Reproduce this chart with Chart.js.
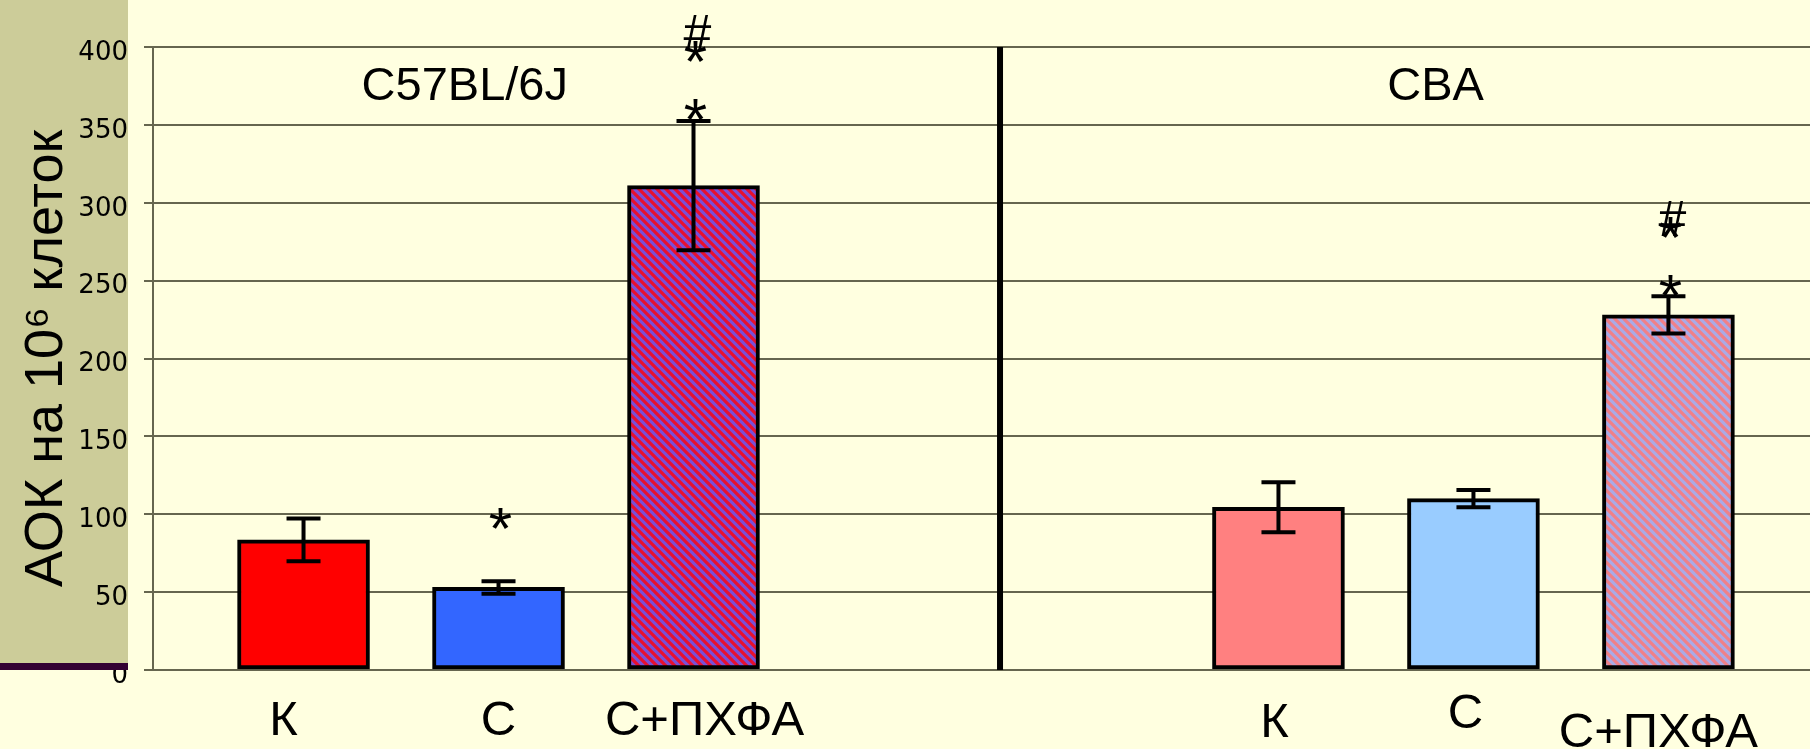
<!DOCTYPE html>
<html>
<head>
<meta charset="utf-8">
<script src="https://cdn.jsdelivr.net/npm/chart.js@4"></script>
<style>
  html, body { margin: 0; padding: 0; background: #ffffe0; }
  #wrap { width: 1810px; height: 749px; }
</style>
</head>
<body>
<div id="wrap"><canvas id="aok"></canvas></div>
<script>
// strains and treatment groups
const strains = ['C57BL/6J', 'CBA'];
const categories = ['К', 'С', 'С+ПХФА'];

// AOK per 10^6 cells, mean and error
const c57Values = [83.5, 53, 311];
const c57Errors = [13.7, 4, 41.5];
const cbaValues = [104.5, 110, 228];
const cbaErrors = [16, 5.5, 12];

const yTicks = [0, 50, 100, 150, 200, 250, 300, 350, 400];

// significance marks: category index, symbol, level on the y scale
const c57Marks = [
  { cat: 1, text: '*', level: 97.4 },
  { cat: 2, text: '*', level: 359.6 },
  { cat: 2, text: '#', level: 409.6 },
  { cat: 2, text: '*', level: 397.4 },
];
const cbaMarks = [
  { cat: 2, text: '*', level: 247 },
  { cat: 2, text: '#', level: 289.6 },
  { cat: 2, text: '*', level: 284 },
];

const groupStride = 5;   // two empty slots between the strains
const slot = (g, c) => g * groupStride + c;

// small hand nudges for the category captions (px), strain by strain
const captionShift = [
  [[-20, 0], [0, 0], [11, 0]],
  [[-4, 2], [-8, -7], [-10, 12]]
];

const FONT = '"Liberation Sans", Arial, sans-serif';

function stripes(c1, c2) {
  const p = 9;
  const tile = document.createElement('canvas');
  tile.width = p;
  tile.height = p;
  const t = tile.getContext('2d');
  t.fillStyle = c1;
  t.fillRect(0, 0, p, p);
  t.strokeStyle = c2;
  t.lineWidth = p / (2 * Math.SQRT2);
  t.beginPath();
  for (const o of [-p, 0, p]) {
    t.moveTo(o - p, -p);
    t.lineTo(o + 2 * p, 2 * p);
  }
  t.stroke();
  return t.createPattern(tile, 'repeat');
}

const backdrop = {
  id: 'backdrop',
  beforeDraw(chart) {
    const ctx = chart.ctx;
    ctx.save();
    ctx.fillStyle = '#ffffe0';
    ctx.fillRect(0, 0, chart.width, chart.height);
    ctx.fillStyle = '#cccc99';
    ctx.fillRect(0, 0, 128, 663);
    ctx.restore();
  }
};

const extras = {
  id: 'extras',
  afterDatasetsDraw(chart) {
    const ctx = chart.ctx;
    const y = chart.scales.y;
    const x = chart.scales.x;
    const area = chart.chartArea;
    ctx.save();

    // error bars
    ctx.strokeStyle = '#000';
    ctx.lineWidth = 4;
    chart.data.datasets.forEach((ds, di) => {
      const meta = chart.getDatasetMeta(di);
      meta.data.forEach((bar, i) => {
        const v = ds.data[i].y;
        const e = ds.errors[i];
        const top = y.getPixelForValue(v + e);
        const bot = y.getPixelForValue(v - e);
        ctx.beginPath();
        ctx.moveTo(bar.x, top);
        ctx.lineTo(bar.x, bot);
        ctx.moveTo(bar.x - 17, top);
        ctx.lineTo(bar.x + 17, top);
        ctx.moveTo(bar.x - 17, bot);
        ctx.lineTo(bar.x + 17, bot);
        ctx.stroke();
      });
    });

    // divider between the strains
    const dx = x.getPixelForValue(3.572);
    ctx.lineWidth = 6;
    ctx.beginPath();
    ctx.moveTo(dx, area.top);
    ctx.lineTo(dx, area.bottom);
    ctx.stroke();

    // dark rule under the side band
    ctx.fillStyle = '#330033';
    ctx.fillRect(0, 663, 128, 7);
    ctx.restore();
  },
  afterDraw(chart) {
    const ctx = chart.ctx;
    const y = chart.scales.y;
    const x = chart.scales.x;
    const area = chart.chartArea;
    ctx.save();
    ctx.fillStyle = '#000';
    ctx.textAlign = 'center';
    ctx.textBaseline = 'alphabetic';

    // strain names
    ctx.font = '47px ' + FONT;
    const namePos = [0.827, 5.806];
    strains.forEach((s, g) => ctx.fillText(s, x.getPixelForValue(namePos[g]), y.getPixelForValue(366)));

    // category captions under the bars
    ctx.font = '49px ' + FONT;
    [0, 1].forEach(di => {
      const meta = chart.getDatasetMeta(di);
      categories.forEach((c, i) => {
        const [sx, sy] = captionShift[di][i];
        ctx.fillText(c, meta.data[i].x + sx, area.bottom + 65 + sy);
      });
    });

    // significance marks, centred on their glyph box
    [c57Marks, cbaMarks].forEach((marks, di) => {
      const meta = chart.getDatasetMeta(di);
      marks.forEach(m => {
        ctx.font = (m.text === '*' ? '60px ' : '50px ') + FONT;
        const mt = ctx.measureText(m.text);
        const cy = y.getPixelForValue(m.level);
        const off = (mt.actualBoundingBoxAscent - mt.actualBoundingBoxDescent) / 2;
        ctx.fillText(m.text, meta.data[m.cat].x + (m.text === '#' ? 4 : 2), cy + off);
      });
    });
    ctx.restore();
  }
};

const gridColor = '#66664f';

new Chart(document.getElementById('aok'), {
  type: 'bar',
  data: {
    datasets: [
      {
        label: strains[0],
        data: c57Values.map((v, i) => ({ x: slot(0, i), y: v })),
        errors: c57Errors,
        backgroundColor: ['#ff0000', '#3366ff', stripes('#7a4fd6', '#e8102e')]
      },
      {
        label: strains[1],
        data: cbaValues.map((v, i) => ({ x: slot(1, i), y: v })),
        errors: cbaErrors,
        backgroundColor: ['#ff8080', '#99ccff', stripes('#aaaae6', '#f08088')]
      }
    ]
  },
  options: {
    responsive: true,
    maintainAspectRatio: false,
    animation: false,
    layout: { padding: { top: 47, left: 0, right: 0, bottom: 0 } },
    plugins: {
      legend: { display: false },
      tooltip: { enabled: false }
    },
    datasets: {
      bar: {
        grouped: false,
        barThickness: 132,
        borderWidth: 4,
        borderColor: '#000',
        borderSkipped: false
      }
    },
    scales: {
      x: {
        type: 'linear',
        bounds: 'data',
        min: -0.772,
        max: 7.726,
        offset: false,
        grid: { display: false, drawTicks: false, offset: false },
        border: { display: false },
        afterFit: s => { s.height = 79; },
        ticks: { display: false }
      },
      y: {
        min: 0,
        max: 400,
        afterBuildTicks: s => { s.ticks = yTicks.map(v => ({ value: v })); },
        afterFit: s => { s.width = 153; },
        grid: { color: gridColor, lineWidth: 2, tickLength: 9, tickColor: gridColor },
        border: { color: gridColor, width: 2 },
        ticks: {
          color: '#000',
          padding: 16,
          labelOffset: 6,
          font: { family: '"DejaVu Sans", sans-serif', size: 26 }
        },
        title: {
          display: true,
          text: 'АОК на 10⁶ клеток',
          color: '#000',
          font: { family: FONT, size: 54 },
          padding: { top: 15, bottom: 0 }
        }
      }
    }
  },
  plugins: [backdrop, extras]
});
</script>
</body>
</html>
